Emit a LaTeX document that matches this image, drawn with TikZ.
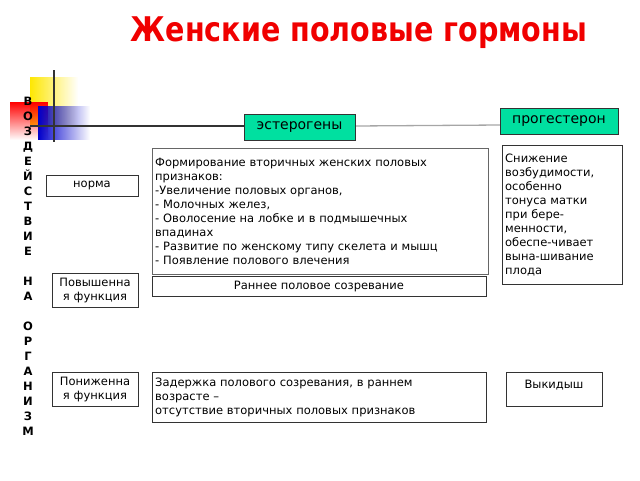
\documentclass[tikz,border=0pt]{standalone}
\usepackage{fontspec}
\setmainfont{DejaVu Sans}
\usetikzlibrary{fadings}
\definecolor{tgreen}{RGB}{0,224,160}
\definecolor{tred}{RGB}{240,0,0}
\begin{document}
\begin{tikzpicture}[x=1pt,y=-1pt,
  gbox/.style={draw=black!80,fill=tgreen,inner sep=0,font=\fontsize{14}{16}\selectfont},
  wbox/.style={draw=black!80,fill=white,inner sep=3pt,font=\fontsize{11.5}{14}\selectfont,align=left,anchor=north west},
  cbox/.style={draw=black!80,fill=white,inner sep=0,font=\fontsize{11.5}{14}\selectfont,align=center}]
\useasboundingbox (0,0) rectangle (640,480);
% decoration
\fill[yellow!90!orange,path fading=east] (30,77) rectangle (78,125);
\fill[red,path fading=south] (10,102) rectangle (48,140);
\fill[blue!80!black,path fading=east] (38,106) rectangle (90,140);
\draw[line width=1.3pt,black!80] (54,70) -- (54,142);
\draw[line width=1.3pt,black!80] (30,126) -- (245,126);
\draw[line width=1.3pt,black!35] (355,126) -- (500,125);
% title
\node[font=\bfseries\fontsize{34}{38}\selectfont,text=tred,xscale=0.84] (title) at (359,33) {Женские половые гормоны};
% vertical text
\node[font=\bfseries\fontsize{11.5}{15}\selectfont,align=center,anchor=north,inner sep=0] (vert) at (28,97) {В\\О\\З\\Д\\Е\\Й\\С\\Т\\В\\И\\Е\\[15pt]Н\\А\\[15pt]О\\Р\\Г\\А\\Н\\И\\З\\М};
% header boxes
\node[gbox,minimum width=111,minimum height=26] (est) at (299.5,127) {эстерогены};
\node[gbox,minimum width=118,minimum height=26] (prog) at (559,121) {прогестерон};
% left labels
\node[cbox,minimum width=92,minimum height=21] (norm) at (92,185.5) {норма};
\node[cbox,minimum width=86,minimum height=34,text width=84] (up) at (95,290) {Повышенна\\я функция};
\node[cbox,minimum width=86,minimum height=34,text width=84] (down) at (95,389) {Пониженна\\я функция};
% content
\node[wbox,minimum width=336,minimum height=126,text width=330,draw=black!60] (big) at (152,148) {Формирование вторичных женских половых\\признаков:\\-Увеличение половых органов,\\- Молочных желез,\\- Оволосение на лобке и в подмышечных\\впадинах\\- Развитие по женскому типу скелета и мышц\\- Появление полового влечения};
\node[wbox,minimum width=120,minimum height=139,text width=114] (snizh) at (502,145) {Снижение\\возбудимости,\\особенно\\тонуса матки\\при бере-\\менности,\\обеспе-чивает\\вына-шивание\\плода};
\node[cbox,minimum width=334,minimum height=20] (early) at (319,286) {Раннее половое созревание};
\node[wbox,minimum width=334,minimum height=50,text width=328] (delay) at (152,372) {Задержка полового созревания, в раннем\\возрасте –\\отсутствие вторичных половых признаков};
\node[cbox,minimum width=96,minimum height=34,anchor=north] (vyk) at (554,372) {\raisebox{9pt}{Выкидыш}};
\end{tikzpicture}
\end{document}
